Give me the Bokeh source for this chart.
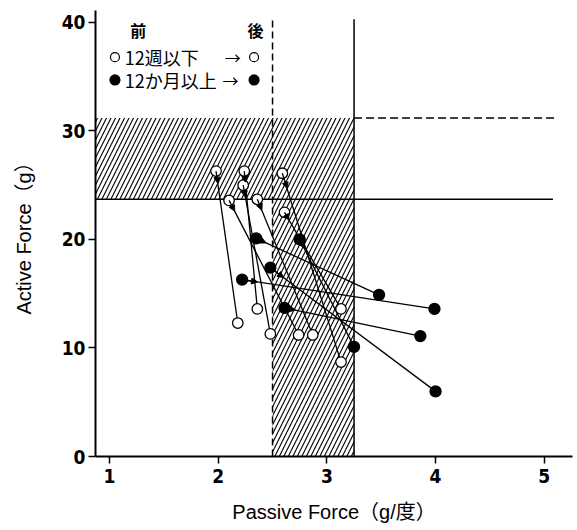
from bokeh.plotting import figure
from bokeh.models import ColumnDataSource, Range1d, FixedTicker, Arrow, NormalHead
from bokeh.core.properties import value
from bokeh.embed import file_html
from bokeh.resources import INLINE

# ---- data ----
wk_pre_x = [1.98, 2.24, 2.23, 2.10, 2.36, 2.59, 2.61]
wk_pre_y = [26.3, 26.3, 25.0, 23.6, 23.7, 26.1, 22.5]
wk_post_x = [2.18, 2.36, 2.48, 2.74, 2.87, 3.13, 3.13]
wk_post_y = [12.3, 13.6, 11.3, 11.2, 11.2, 8.7, 13.6]

mo_pre_x = [2.35, 2.22, 2.75, 2.48, 2.61]
mo_pre_y = [20.1, 16.3, 20.0, 17.4, 13.7]
mo_post_x = [3.48, 3.99, 3.25, 4.00, 3.86]
mo_post_y = [14.9, 13.6, 10.1, 6.0, 11.1]

passive_lo, passive_hi = 2.5, 3.25
active_lo, active_hi = 23.7, 31.2

x_ticks = [1, 2, 3, 4, 5]
y_ticks = [0, 10, 20, 30, 40]

label_font = "'Liberation Sans', 'Noto Sans CJK JP', sans-serif"
tick_font = "'Liberation Sans Narrow', 'DejaVu Sans Condensed', sans-serif"
cjk_font = "'Noto Sans CJK JP', sans-serif"

X0, X1 = 0.871, 5.26
Y0, Y1 = 0.0, 41.1

p = figure(width=577, height=530, output_backend="svg", toolbar_location=None,
           x_range=Range1d(X0, X1), y_range=Range1d(Y0, Y1),
           min_border_left=95, min_border_right=5, min_border_top=10, min_border_bottom=74)
p.outline_line_color = None
p.grid.visible = False
p.background_fill_color = "white"
p.border_fill_color = "white"

for ax in (p.xaxis[0], p.yaxis[0]):
    ax.axis_line_width = 2
    ax.axis_line_color = "black"
    ax.major_tick_line_color = "black"
    ax.major_tick_line_width = 1.5
    ax.major_tick_in = 0
    ax.major_tick_out = 7
    ax.minor_tick_line_color = None
    ax.major_label_text_font = tick_font
    ax.major_label_text_font_size = "19px"
    ax.major_label_text_font_style = "bold"
    ax.major_label_text_color = "black"
    ax.axis_label_text_font = label_font
    ax.axis_label_text_font_size = "20px"
    ax.axis_label_text_font_style = "normal"
    ax.axis_label_text_color = "black"

p.xaxis.ticker = FixedTicker(ticks=x_ticks)
p.yaxis.ticker = FixedTicker(ticks=y_ticks)
p.xaxis.axis_label = "Passive Force（g/度）"
p.yaxis.axis_label = "Active Force（g）"
p.xaxis.major_label_standoff = 5
p.yaxis.major_label_standoff = 3
p.xaxis.axis_label_standoff = 15
p.yaxis.axis_label_standoff = 24

# hatched normal ranges
hatch = dict(fill_alpha=0, line_alpha=0, hatch_pattern="/", hatch_scale=9,
             hatch_weight=1.1, hatch_color="black")
p.quad(left=[X0], right=[passive_hi], bottom=[active_lo], top=[active_hi], **hatch)
p.quad(left=[passive_lo], right=[passive_hi], bottom=[0], top=[active_lo], **hatch)

# reference lines
p.segment(x0=[passive_lo], y0=[0], x1=[passive_lo], y1=[40.2],
          line_color="black", line_width=1.5, line_dash="7 4")
p.segment(x0=[passive_hi], y0=[0], x1=[passive_hi], y1=[40.3],
          line_color="black", line_width=1.5)
p.segment(x0=[passive_hi], y0=[active_hi], x1=[5.1], y1=[active_hi],
          line_color="black", line_width=1.5, line_dash="8 4")
p.segment(x0=[X0], y0=[active_lo], x1=[5.08], y1=[active_lo],
          line_color="black", line_width=1.5)

# connecting lines
all_pre_x = wk_pre_x + mo_pre_x
all_pre_y = wk_pre_y + mo_pre_y
all_post_x = wk_post_x + mo_post_x
all_post_y = wk_post_y + mo_post_y
p.segment(x0=all_pre_x, y0=all_pre_y, x1=all_post_x, y1=all_post_y,
          line_color="black", line_width=1.3)

f = 0.08
arr = ColumnDataSource(dict(
    xs=all_pre_x, ys=all_pre_y,
    xe=[a + f * (b - a) for a, b in zip(all_pre_x, all_post_x)],
    ye=[a + f * (b - a) for a, b in zip(all_pre_y, all_post_y)],
))
p.add_layout(Arrow(end=NormalHead(size=6, fill_color="black", line_color="black"),
                   x_start="xs", y_start="ys", x_end="xe", y_end="ye",
                   source=arr, line_width=1.3, line_color="black"))

# markers
p.scatter(wk_pre_x + wk_post_x, wk_pre_y + wk_post_y, size=10.5, marker="circle",
          fill_color="white", line_color="black", line_width=1.3)
p.scatter(mo_pre_x + mo_post_x, mo_pre_y + mo_post_y, size=11, marker="circle",
          fill_color="black", line_color="black", line_width=1.3)

# legend (drawn as text)
p.text(x=[1.19, 2.27], y=[39.3, 39.3], text=["前", "後"], text_font=value(cjk_font),
       text_font_size="16px", text_font_style="bold", text_baseline="middle",
       text_align="left", text_color="black")
p.text(x=[1.14, 1.14], y=[36.8, 34.7], text=["12週以下", "12か月以上"],
       text_font=value(cjk_font), text_font_size="18px", text_font_style="normal",
       text_baseline="middle", text_align="left", text_color="black")
p.text(x=[2.06, 2.04], y=[36.8, 34.7], text=["→", "→"],
       text_font=value(cjk_font), text_font_size="16px",
       text_baseline="middle", text_align="left", text_color="black")
p.scatter([1.05, 2.33], [36.8, 36.8], size=9, marker="circle",
          fill_color="white", line_color="black", line_width=1.2)
p.scatter([1.05, 2.33], [34.7, 34.7], size=10, marker="circle",
          fill_color="black", line_color="black", line_width=1.2)

open("out.html", "w").write(file_html(p, INLINE))
